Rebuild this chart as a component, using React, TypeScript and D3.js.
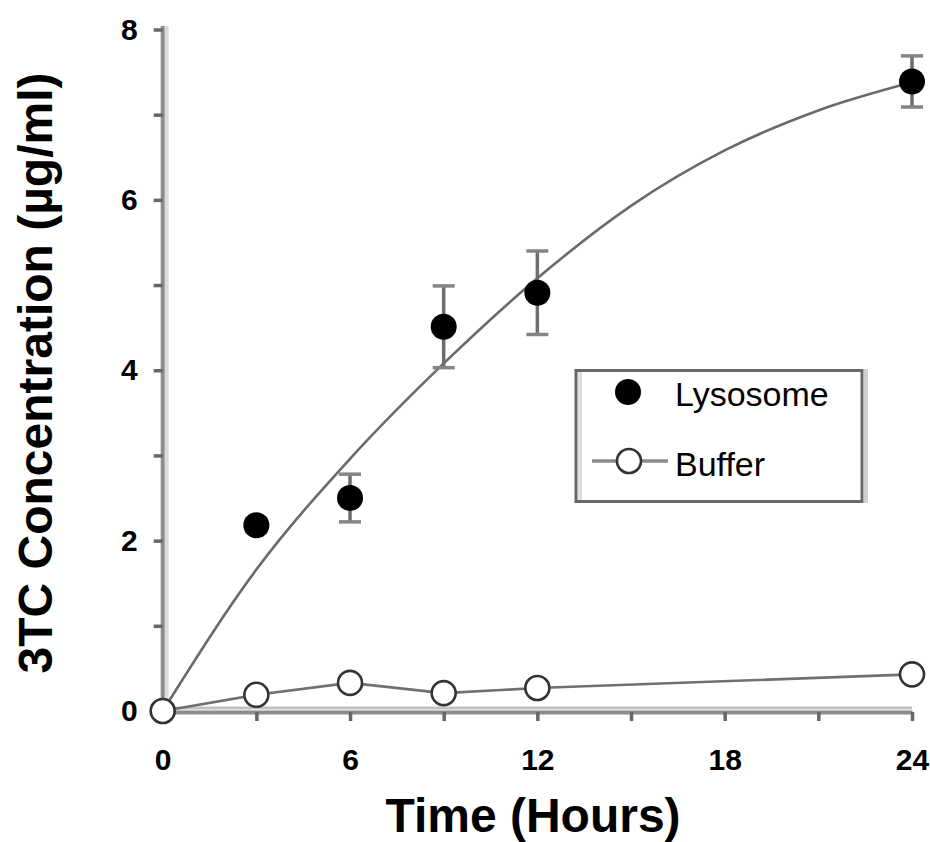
import React, { useEffect, useRef } from "react";
import * as d3 from "d3";

// measured points (hours, µg/ml)
const lysosomeHours = [3, 6, 9, 12, 24];
const lysosomeMean = [2.18, 2.5, 4.51, 4.91, 7.39];
const lysosomeErr = [0.08, 0.28, 0.48, 0.49, 0.3];

const bufferHours = [0, 3, 6, 9, 12, 24];
const bufferMean = [0, 0.19, 0.33, 0.21, 0.27, 0.43];

// fitted curve through lysosome data
const fitHours = [0, 3, 6, 9, 12, 15, 18, 21, 24];
const fitValues = [0, 1.66, 2.96, 4.08, 5.08, 5.93, 6.58, 7.05, 7.38];

const xTicks = [0, 3, 6, 9, 12, 15, 18, 21, 24];
const yTicks = [0, 1, 2, 3, 4, 5, 6, 7, 8];

const legendLabels = ["Lysosome", "Buffer"];

const FONT = '"Liberation Sans", Arial, Helvetica, sans-serif';

const App = () => {
  const ref = useRef<SVGSVGElement>(null);

  useEffect(() => {
    const svg = d3.select(ref.current);
    svg.selectAll("*").remove();

    const x = d3.scaleLinear().domain([0, 24]).range([162.7, 912]);
    const y = d3.scaleLinear().domain([0, 8]).range([711, 29.5]);

    // soft shadows beside the axis lines
    svg.append("line")
      .attr("x1", x(0) + 4).attr("x2", x(0) + 4)
      .attr("y1", 26).attr("y2", y(0))
      .attr("stroke", "#dcdcdc").attr("stroke-width", 4);
    svg.append("line")
      .attr("x1", x(0)).attr("x2", x(24))
      .attr("y1", y(0) - 3).attr("y2", y(0) - 3)
      .attr("stroke", "#c2c2c2").attr("stroke-width", 3);

    const yAxis = svg.append("g")
      .attr("transform", `translate(${x(0)},0)`)
      .call(
        d3.axisLeft(y)
          .tickValues(yTicks)
          .tickSize(9)
          .tickSizeOuter(0)
          .tickPadding(16)
          .tickFormat((d) => (+d % 2 === 0 ? String(d) : ""))
      );

    const xAxis = svg.append("g")
      .attr("transform", `translate(0,${y(0) + 1})`)
      .call(
        d3.axisBottom(x)
          .tickValues(xTicks)
          .tickSize(9)
          .tickSizeOuter(0)
          .tickPadding(28)
          .tickFormat((d) => (+d % 6 === 0 ? String(d) : ""))
      );

    [yAxis, xAxis].forEach((g) => {
      g.attr("font-family", FONT).attr("font-size", 30).attr("font-weight", "bold");
      g.select(".domain").attr("stroke", "#8c8c8c").attr("stroke-width", 4);
      g.selectAll(".tick line").attr("stroke", "#666").attr("stroke-width", 3.5);
      g.selectAll(".tick text").attr("fill", "#000");
    });
    yAxis.select(".domain").attr("d", `M0,26V${y(0)}`);

    // fitted curve
    const fitLine = d3.line<number>()
      .x((d, i) => x(fitHours[i]))
      .y((d) => y(d))
      .curve(d3.curveMonotoneX);
    svg.append("path")
      .attr("d", fitLine(fitValues))
      .attr("fill", "none")
      .attr("stroke", "#6a6a6a")
      .attr("stroke-width", 2.6);

    // buffer connecting line
    const bufLine = d3.line<number>()
      .x((d, i) => x(bufferHours[i]))
      .y((d) => y(d));
    svg.append("path")
      .attr("d", bufLine(bufferMean))
      .attr("fill", "none")
      .attr("stroke", "#707070")
      .attr("stroke-width", 2.6);

    // error bars
    const eb = svg.append("g");
    lysosomeHours.forEach((h, i) => {
      const lo = y(lysosomeMean[i] - lysosomeErr[i]);
      const hi = y(lysosomeMean[i] + lysosomeErr[i]);
      eb.append("line")
        .attr("x1", x(h)).attr("x2", x(h)).attr("y1", lo).attr("y2", hi)
        .attr("stroke", "#6e6e6e").attr("stroke-width", 3.5);
      [lo, hi].forEach((v) => {
        eb.append("line")
          .attr("x1", x(h) - 11).attr("x2", x(h) + 11).attr("y1", v).attr("y2", v)
          .attr("stroke", "#858585").attr("stroke-width", 3.5);
      });
    });

    // lysosome points
    svg.append("g")
      .selectAll("circle")
      .data(lysosomeMean)
      .enter()
      .append("circle")
      .attr("cx", (d, i) => x(lysosomeHours[i]))
      .attr("cy", (d) => y(d))
      .attr("r", 13)
      .attr("fill", "#000");

    // buffer points
    svg.append("g")
      .selectAll("circle")
      .data(bufferMean)
      .enter()
      .append("circle")
      .attr("cx", (d, i) => x(bufferHours[i]))
      .attr("cy", (d) => y(d))
      .attr("r", 12)
      .attr("fill", "#fff")
      .attr("stroke", "#333")
      .attr("stroke-width", 2.6);

    // axis titles
    svg.append("text")
      .attr("transform", `translate(52,373) rotate(-90)`)
      .attr("text-anchor", "middle")
      .attr("font-family", FONT)
      .attr("font-size", 48)
      .attr("font-weight", "bold")
      .text("3TC Concentration (µg/ml)");

    svg.append("text")
      .attr("x", 533)
      .attr("y", 832)
      .attr("text-anchor", "middle")
      .attr("font-family", FONT)
      .attr("font-size", 48)
      .attr("font-weight", "bold")
      .text("Time (Hours)");

    // legend
    const lg = svg.append("g");
    lg.append("rect")
      .attr("x", 576).attr("y", 370.5).attr("width", 286).attr("height", 131)
      .attr("fill", "#fff").attr("stroke", "#686868").attr("stroke-width", 3);
    lg.append("line")
      .attr("x1", 580).attr("x2", 580).attr("y1", 372).attr("y2", 500)
      .attr("stroke", "#dedede").attr("stroke-width", 4);
    lg.append("line")
      .attr("x1", 866).attr("x2", 866).attr("y1", 369).attr("y2", 503)
      .attr("stroke", "#cfcfcf").attr("stroke-width", 4);

    lg.append("circle").attr("cx", 628).attr("cy", 392).attr("r", 13).attr("fill", "#000");
    lg.append("line")
      .attr("x1", 592).attr("x2", 668).attr("y1", 461).attr("y2", 461)
      .attr("stroke", "#8a8a8a").attr("stroke-width", 3.5);
    lg.append("circle")
      .attr("cx", 629).attr("cy", 461).attr("r", 12)
      .attr("fill", "#fff").attr("stroke", "#333").attr("stroke-width", 2.6);

    lg.selectAll("text.lab")
      .data(legendLabels)
      .enter()
      .append("text")
      .attr("class", "lab")
      .attr("x", 675)
      .attr("y", (d, i) => 406 + i * 70)
      .attr("font-family", FONT)
      .attr("font-size", 34)
      .attr("fill", "#000")
      .text((d) => d);
  }, []);

  return (
    <svg
      ref={ref}
      width={930}
      height={842}
      style={{ position: "absolute", left: 0, top: 0, background: "#fff" }}
    ></svg>
  );
};

export default App;
